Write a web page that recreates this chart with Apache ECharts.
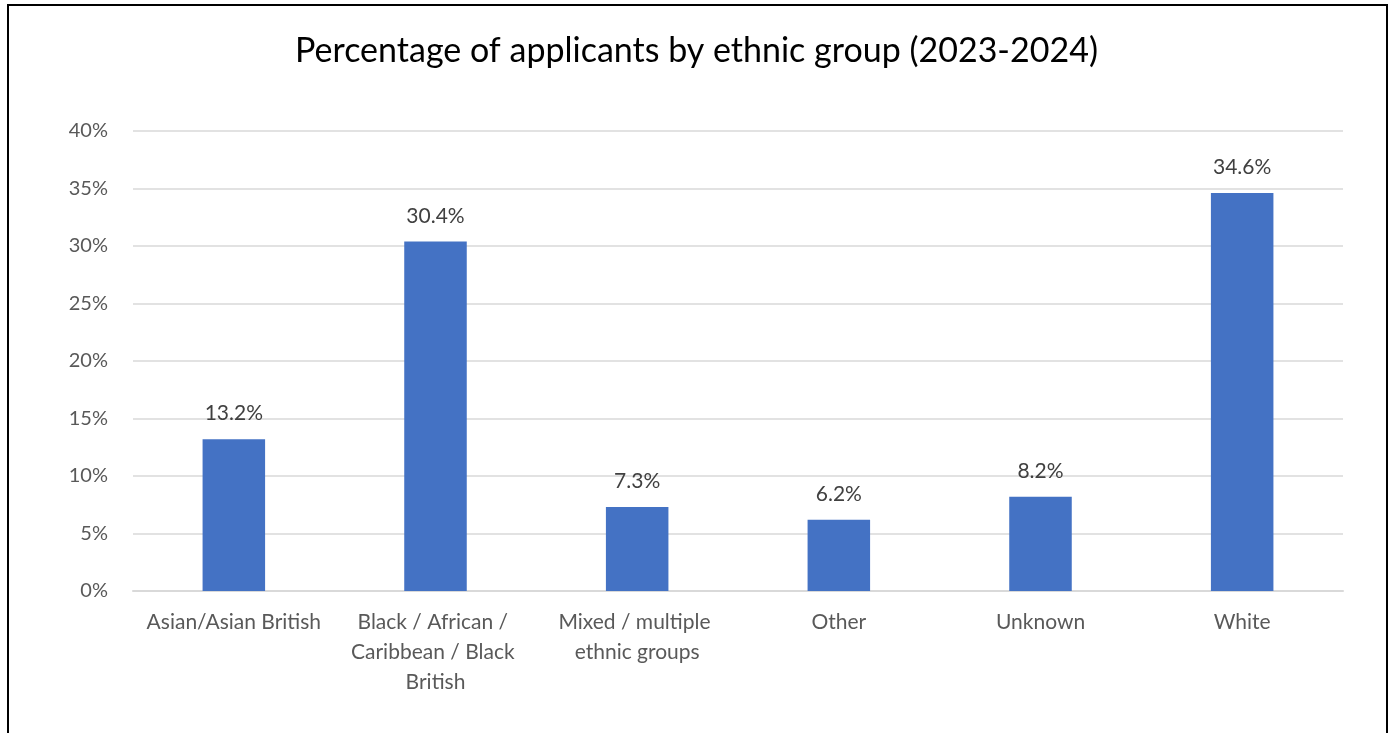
<!DOCTYPE html>
<html><head><meta charset="utf-8">
<script src="https://cdn.jsdelivr.net/npm/echarts@6/dist/echarts.min.js"></script>
<style>
html,body{margin:0;padding:0;background:#fff;}
#frame{position:absolute;left:7px;top:4px;width:1377px;height:760px;border:2px solid #000;box-sizing:content-box;}
#c{position:absolute;left:0;top:0;width:1393px;height:733px;}
</style></head>
<body>
<div id="frame"></div>
<div id="c"></div>
<script>
const titleText = 'Percentage of applicants by ethnic group (2023-2024)';
const categories = ['Asian/Asian British', 'Black / African / Caribbean / Black British', 'Mixed / multiple ethnic groups', 'Other', 'Unknown', 'White'];
const values = [13.2, 30.4, 7.3, 6.2, 8.2, 34.6];
const yTicks = [0, 5, 10, 15, 20, 25, 30, 35, 40];

const font = 'Lato, "Open Sans", sans-serif';
const chart = echarts.init(document.getElementById('c'), null, {renderer: 'canvas'});
chart.setOption({
  backgroundColor: 'transparent',
  animation: false,
  title: {
    text: titleText, left: 'center', top: 29,
    textStyle: {fontFamily: font, fontSize: 34, fontWeight: 'normal', color: '#000'}
  },
  grid: {left: 133, right: 50, top: 131, bottom: 142, containLabel: false},
  xAxis: {
    type: 'category', data: categories,
    axisLine: {show: true, lineStyle: {color: '#d9d9d9', width: 2}},
    axisTick: {show: false},
    axisLabel: {
      interval: 0, margin: 16, color: '#595959', fontFamily: font, fontSize: 21,
      lineHeight: 30, width: 190, overflow: 'break'
    }
  },
  yAxis: {
    type: 'value', min: yTicks[0], max: yTicks[yTicks.length - 1], interval: 5,
    axisLine: {show: false}, axisTick: {show: false},
    splitLine: {lineStyle: {color: '#d9d9d9', width: 1.5}},
    axisLabel: {margin: 25, color: '#595959', fontFamily: font, fontSize: 20, formatter: v => v + '%'}
  },
  series: [{
    type: 'bar', data: values, barWidth: '31%',
    itemStyle: {color: '#4472c4'},
    label: {show: true, position: 'top', distance: 15, color: '#404040', fontFamily: font, fontSize: 21,
      formatter: p => p.value.toFixed(1) + '%'}
  }]
});
</script>
</body></html>
